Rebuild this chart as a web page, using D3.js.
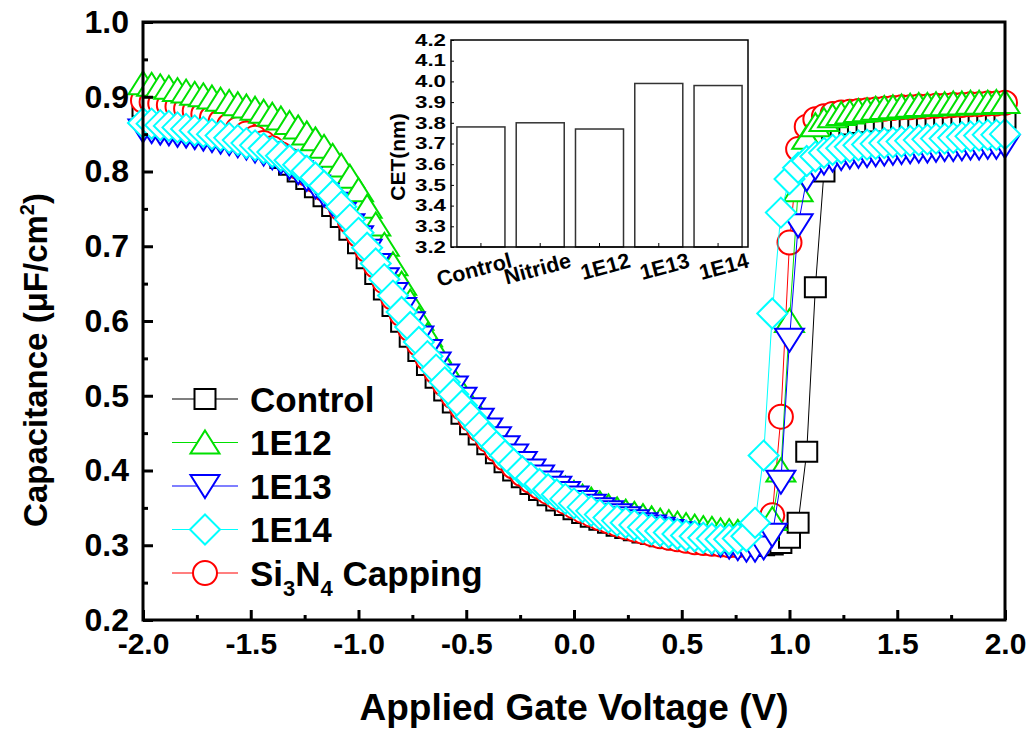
<!DOCTYPE html>
<html>
<head>
<meta charset="utf-8">
<script src="https://cdn.jsdelivr.net/npm/d3@7"></script>
<style>
  body { margin: 0; background: #fff; }
  text { font-family: "Liberation Sans", Arial, sans-serif; font-weight: bold; fill: #000; }
</style>
</head>
<body>
<div id="chart"></div>
<script>
// applied gate voltage (V), shared by every curve
const voltage = [
  -2, -1.96, -1.92, -1.88, -1.84, -1.8, -1.76, -1.72, -1.68, -1.64,
  -1.6, -1.56, -1.52, -1.48, -1.44, -1.4, -1.36, -1.32, -1.28, -1.24,
  -1.2, -1.16, -1.12, -1.08, -1.04, -1, -0.96, -0.92, -0.88, -0.84,
  -0.8, -0.76, -0.72, -0.68, -0.64, -0.6, -0.56, -0.52, -0.48, -0.44,
  -0.4, -0.36, -0.32, -0.28, -0.24, -0.2, -0.16, -0.12, -0.08, -0.04,
  0, 0.04, 0.08, 0.12, 0.16, 0.2, 0.24, 0.28, 0.32, 0.36,
  0.4, 0.44, 0.48, 0.52, 0.56, 0.6, 0.64, 0.68, 0.72, 0.76,
  0.8, 0.84, 0.88, 0.92, 0.96, 1, 1.04, 1.08, 1.12, 1.16,
  1.2, 1.24, 1.28, 1.32, 1.36, 1.4, 1.44, 1.48, 1.52, 1.56,
  1.6, 1.64, 1.68, 1.72, 1.76, 1.8, 1.84, 1.88, 1.92, 1.96,
  2
];

// capacitance (uF/cm2)
const capControl = [
  0.887, 0.885, 0.883, 0.881, 0.879, 0.876, 0.873, 0.870, 0.866, 0.862,
  0.857, 0.852, 0.846, 0.840, 0.833, 0.826, 0.818, 0.809, 0.800, 0.790,
  0.779, 0.767, 0.754, 0.739, 0.722, 0.704, 0.684, 0.663, 0.642, 0.620,
  0.599, 0.579, 0.560, 0.541, 0.524, 0.507, 0.491, 0.476, 0.462, 0.448,
  0.435, 0.423, 0.411, 0.400, 0.391, 0.382, 0.374, 0.367, 0.360, 0.354,
  0.348, 0.343, 0.338, 0.334, 0.330, 0.326, 0.323, 0.320, 0.317, 0.315,
  0.312, 0.310, 0.308, 0.306, 0.305, 0.303, 0.302, 0.301, 0.300, 0.299,
  0.299, 0.299, 0.300, 0.301, 0.303, 0.310, 0.330, 0.425, 0.645, 0.800,
  0.845, 0.858, 0.863, 0.865, 0.866, 0.867, 0.867, 0.868, 0.868, 0.869,
  0.869, 0.869, 0.870, 0.870, 0.870, 0.871, 0.871, 0.871, 0.872, 0.872,
  0.872
];
const cap1E12 = [
  0.918, 0.916, 0.914, 0.912, 0.909, 0.907, 0.904, 0.902, 0.899, 0.896,
  0.893, 0.890, 0.887, 0.884, 0.880, 0.876, 0.871, 0.865, 0.859, 0.851,
  0.843, 0.833, 0.821, 0.808, 0.793, 0.775, 0.753, 0.729, 0.702, 0.676,
  0.650, 0.626, 0.603, 0.581, 0.560, 0.540, 0.522, 0.505, 0.488, 0.473,
  0.458, 0.445, 0.434, 0.423, 0.413, 0.404, 0.396, 0.389, 0.382, 0.376,
  0.370, 0.365, 0.361, 0.356, 0.352, 0.348, 0.345, 0.342, 0.339, 0.336,
  0.333, 0.331, 0.329, 0.327, 0.325, 0.323, 0.322, 0.320, 0.319, 0.318,
  0.318, 0.319, 0.322, 0.335, 0.400, 0.600, 0.775, 0.845, 0.862, 0.869,
  0.874, 0.877, 0.879, 0.881, 0.882, 0.884, 0.885, 0.886, 0.887, 0.888,
  0.889, 0.889, 0.890, 0.890, 0.891, 0.891, 0.892, 0.892, 0.892, 0.893,
  0.893
];
const cap1E13 = [
  0.855, 0.854, 0.852, 0.851, 0.849, 0.848, 0.846, 0.844, 0.842, 0.840,
  0.838, 0.835, 0.832, 0.828, 0.824, 0.819, 0.813, 0.806, 0.799, 0.790,
  0.780, 0.769, 0.757, 0.743, 0.728, 0.712, 0.694, 0.675, 0.656, 0.636,
  0.616, 0.597, 0.578, 0.560, 0.543, 0.527, 0.511, 0.496, 0.482, 0.468,
  0.455, 0.443, 0.431, 0.420, 0.410, 0.400, 0.392, 0.384, 0.377, 0.370,
  0.364, 0.358, 0.353, 0.348, 0.344, 0.340, 0.336, 0.332, 0.328, 0.325,
  0.322, 0.319, 0.316, 0.313, 0.310, 0.307, 0.304, 0.301, 0.298, 0.296,
  0.294, 0.294, 0.297, 0.314, 0.385, 0.575, 0.728, 0.790, 0.805, 0.812,
  0.816, 0.818, 0.820, 0.821, 0.822, 0.823, 0.824, 0.825, 0.826, 0.827,
  0.828, 0.828, 0.829, 0.830, 0.830, 0.831, 0.832, 0.832, 0.833, 0.833,
  0.834
];
const cap1E14 = [
  0.865, 0.864, 0.862, 0.861, 0.859, 0.857, 0.855, 0.853, 0.850, 0.848,
  0.845, 0.842, 0.838, 0.835, 0.831, 0.826, 0.821, 0.815, 0.809, 0.801,
  0.792, 0.781, 0.768, 0.753, 0.736, 0.718, 0.698, 0.677, 0.656, 0.634,
  0.612, 0.592, 0.572, 0.553, 0.535, 0.518, 0.502, 0.487, 0.472, 0.458,
  0.444, 0.432, 0.420, 0.409, 0.399, 0.390, 0.382, 0.375, 0.368, 0.362,
  0.356, 0.351, 0.346, 0.341, 0.337, 0.333, 0.330, 0.327, 0.324, 0.321,
  0.319, 0.317, 0.315, 0.313, 0.312, 0.310, 0.309, 0.308, 0.308, 0.309,
  0.312, 0.330, 0.420, 0.610, 0.745, 0.790, 0.805, 0.814, 0.820, 0.825,
  0.829, 0.831, 0.833, 0.835, 0.836, 0.837, 0.838, 0.839, 0.840, 0.841,
  0.842, 0.843, 0.844, 0.844, 0.845, 0.846, 0.847, 0.848, 0.849, 0.849,
  0.850
];
const capSi3N4 = [
  0.895, 0.893, 0.891, 0.889, 0.887, 0.884, 0.881, 0.877, 0.872, 0.867,
  0.862, 0.857, 0.851, 0.845, 0.838, 0.831, 0.823, 0.815, 0.806, 0.797,
  0.788, 0.777, 0.765, 0.750, 0.733, 0.715, 0.695, 0.674, 0.653, 0.631,
  0.609, 0.589, 0.569, 0.550, 0.532, 0.515, 0.499, 0.484, 0.469, 0.455,
  0.441, 0.428, 0.416, 0.405, 0.395, 0.386, 0.378, 0.371, 0.364, 0.358,
  0.352, 0.346, 0.341, 0.336, 0.332, 0.328, 0.324, 0.321, 0.318, 0.315,
  0.312, 0.310, 0.308, 0.306, 0.304, 0.303, 0.302, 0.301, 0.300, 0.300,
  0.302, 0.306, 0.318, 0.340, 0.472, 0.705, 0.830, 0.860, 0.870, 0.874,
  0.877, 0.879, 0.880, 0.881, 0.882, 0.883, 0.884, 0.885, 0.886, 0.886,
  0.887, 0.887, 0.888, 0.888, 0.889, 0.889, 0.890, 0.890, 0.891, 0.891,
  0.892
];

// inset: CET per sample
const cetCategories = ["Control", "Nitride", "1E12", "1E13", "1E14"];
const cetValues = [3.78, 3.80, 3.77, 3.99, 3.98];

const xTickValues = [-2.0, -1.5, -1.0, -0.5, 0.0, 0.5, 1.0, 1.5, 2.0];
const yTickValues = [0.2, 0.3, 0.4, 0.5, 0.6, 0.7, 0.8, 0.9, 1.0];
const cetTickValues = [3.2, 3.3, 3.4, 3.5, 3.6, 3.7, 3.8, 3.9, 4.0, 4.1, 4.2];

// styles per series (draw order: control, Si3N4, 1E12, 1E13, 1E14)
const series = [
  { key: "Control", values: capControl, color: "#000000", shape: "square" },
  { key: "Si3N4", values: capSi3N4, color: "#ff0000", shape: "circle" },
  { key: "1E12", values: cap1E12, color: "#00e000", shape: "up" },
  { key: "1E13", values: cap1E13, color: "#0000ff", shape: "down" },
  { key: "1E14", values: cap1E14, color: "#00ffff", shape: "diamond" }
];
const legendOrder = ["Control", "1E12", "1E13", "1E14", "Si3N4"];

function shapePath(shape) {
  switch (shape) {
    case "square": return "M-10.5,-10h21v20h-21Z";
    case "up": return "M0,-12L14.5,11L-14.5,11Z";
    case "down": return "M0,12L14.5,-11L-14.5,-11Z";
    case "diamond": return "M0,-15L15,0L0,15L-15,0Z";
    default: return "M-12,0A12,12 0 1,0 12,0A12,12 0 1,0 -12,0Z";
  }
}

var width = 1032, height = 731;
var svg = d3.select("#chart").append("svg")
  .attr("width", width).attr("height", height);

var x = d3.scaleLinear().domain([-2, 2]).range([143, 1005]);
var y = d3.scaleLinear().domain([0.2, 1.0]).range([620, 22]);

// curves
series.forEach(function (s) {
  var pts = voltage.map(function (v, i) { return [v, s.values[i]]; });
  var line = d3.line().x(d => x(d[0])).y(d => y(d[1]));
  svg.append("path")
    .attr("d", line(pts))
    .attr("fill", "none")
    .attr("stroke", s.color)
    .attr("stroke-width", 1);
  svg.append("g").selectAll("path")
    .data(pts)
    .join("path")
    .attr("transform", d => `translate(${x(d[0])},${y(d[1])})`)
    .attr("d", shapePath(s.shape))
    .attr("fill", "#fff")
    .attr("stroke", s.color)
    .attr("stroke-width", 2);
});

// axes (ticks inside)
var xAxis = d3.axisBottom(x).tickValues(xTickValues).tickSize(-10).tickPadding(12)
  .tickFormat(d3.format(".1f"));
var xMinor = d3.axisBottom(x).tickValues(d3.range(-1.75, 2, 0.5)).tickSize(-5).tickFormat("");
var yAxis = d3.axisLeft(y).tickValues(yTickValues).tickSize(-10).tickPadding(14)
  .tickFormat(d3.format(".1f"));
var yMinor = d3.axisLeft(y).tickValues(d3.range(0.25, 1.0, 0.1)).tickSize(-5).tickFormat("");

var gx = svg.append("g").attr("transform", "translate(0,620)").call(xAxis);
svg.append("g").attr("transform", "translate(0,620)").call(xMinor);
var gy = svg.append("g").attr("transform", "translate(143,0)").call(yAxis);
svg.append("g").attr("transform", "translate(143,0)").call(yMinor);
svg.selectAll(".domain").remove();
svg.selectAll(".tick line").attr("stroke", "#000").attr("stroke-width", 3);
gx.selectAll("text").attr("font-size", 30).attr("font-family", "Liberation Sans")
  .attr("dy", "0.72em").text(d => d3.format(".1f")(d).replace("\u2212", "-"));
gy.selectAll("text").attr("font-size", 32).attr("font-family", "Liberation Sans")
  .text(d => d3.format(".1f")(d));

svg.append("rect")
  .attr("x", 143).attr("y", 22).attr("width", 862).attr("height", 598)
  .attr("fill", "none").attr("stroke", "#000").attr("stroke-width", 3);

// axis titles
svg.append("text")
  .attr("x", 574).attr("y", 720)
  .attr("text-anchor", "middle").attr("font-size", 37)
  .text("Applied Gate Voltage (V)");

var yt = svg.append("text")
  .attr("transform", "translate(47,360) rotate(-90)")
  .attr("text-anchor", "middle").attr("font-size", 33);
yt.append("tspan").text("Capacitance (\u03bcF/cm");
yt.append("tspan").attr("font-size", 20).attr("dy", -13).text("2");
yt.append("tspan").attr("dy", 13).text(")");

// legend
var legend = svg.append("g");
legendOrder.forEach(function (k, i) {
  var s = series.find(d => d.key === k);
  var ly = 399 + i * 43.5;
  var row = legend.append("g").attr("transform", `translate(0,${ly})`);
  row.append("line").attr("x1", 172).attr("x2", 238).attr("y1", 0).attr("y2", 0)
    .attr("stroke", s.color).attr("stroke-width", 1.2);
  row.append("path").attr("transform", "translate(205,0)")
    .attr("d", shapePath(s.shape))
    .attr("fill", "#fff").attr("stroke", s.color).attr("stroke-width", 2);
  var t = row.append("text").attr("x", 250).attr("y", 12.5).attr("font-size", 35);
  if (k === "Si3N4") {
    t.append("tspan").text("Si");
    t.append("tspan").attr("font-size", 22).attr("dy", 10).text("3");
    t.append("tspan").attr("dy", -10).text("N");
    t.append("tspan").attr("font-size", 22).attr("dy", 10).text("4");
    t.append("tspan").attr("dy", -10).text(" Capping");
  } else {
    t.text(k);
  }
});

// inset bar chart
var ix = d3.scaleBand().domain(cetCategories).range([451, 748])
  .paddingInner(0.19).paddingOuter(0.1);
var iy = d3.scaleLinear().domain([3.2, 4.2]).range([247, 40]);

var inset = svg.append("g");
inset.append("rect").attr("x", 451).attr("y", 40).attr("width", 297).attr("height", 207)
  .attr("fill", "#fff");
inset.selectAll(".bar")
  .data(cetCategories)
  .join("rect")
  .attr("class", "bar")
  .attr("x", d => ix(d))
  .attr("y", (d, i) => iy(cetValues[i]))
  .attr("width", ix.bandwidth())
  .attr("height", (d, i) => iy(3.2) - iy(cetValues[i]))
  .attr("fill", "#fff").attr("stroke", "#333").attr("stroke-width", 1.5);

var iyAxis = d3.axisLeft(iy).tickValues(cetTickValues).tickSize(-3).tickPadding(5)
  .tickFormat(d3.format(".1f"));
var giy = inset.append("g").attr("transform", "translate(451,0)").call(iyAxis);
giy.selectAll("text").attr("font-size", 16.5)
  .attr("textLength", 31).attr("lengthAdjust", "spacingAndGlyphs");
giy.select(".domain").remove();
giy.selectAll(".tick line").attr("stroke", "#000").attr("stroke-width", 1);

var ixAxis = d3.axisBottom(ix).tickSize(-4).tickFormat("");
var gix = inset.append("g").attr("transform", "translate(0,247)").call(ixAxis);
gix.select(".domain").remove();
gix.selectAll(".tick line").attr("stroke", "#000").attr("stroke-width", 1);

inset.selectAll(".xlab")
  .data(cetCategories)
  .join("text")
  .attr("class", "xlab")
  .attr("transform", d => `translate(${ix(d) + ix.bandwidth() / 2 + 32},267) rotate(-15)`)
  .attr("text-anchor", "end")
  .attr("font-size", 21.5)
  .text(d => d);

inset.append("rect").attr("x", 451).attr("y", 40).attr("width", 297).attr("height", 207)
  .attr("fill", "none").attr("stroke", "#000").attr("stroke-width", 1.5);

inset.append("text")
  .attr("transform", "translate(405,157) rotate(-90)")
  .attr("text-anchor", "middle").attr("font-size", 21)
  .text("CET(nm)");
</script>
</body>
</html>
